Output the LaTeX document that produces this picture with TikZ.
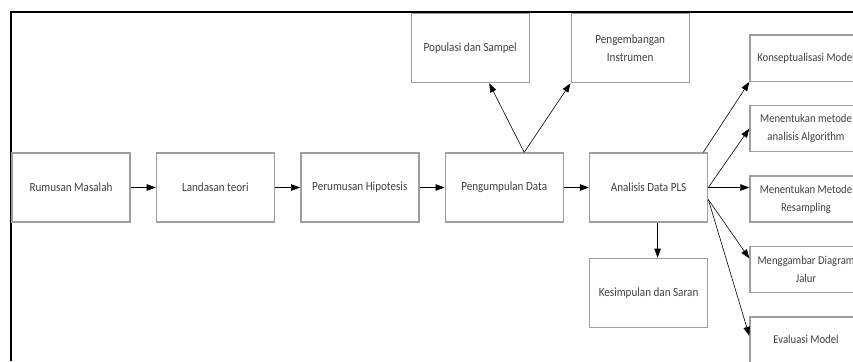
\documentclass[tikz,border=0pt]{standalone}
\usepackage{fontspec}
\setmainfont{Carlito}[FakeStretch=0.89]
\usetikzlibrary{positioning,arrows.meta}

\begin{document}
\begin{tikzpicture}[x=1pt,y=1pt,
						mainbox/.style={draw=black!38,line width=1.4pt,minimum width=118pt,minimum height=69pt,inner sep=2pt,align=center,text=black!75,font=\fontsize{12.5}{18}\selectfont},
						sidebox/.style={mainbox,minimum width=112pt,minimum height=46pt,font=\fontsize{12}{18}\selectfont},
						arr/.style={-{Triangle[length=9pt,width=6.5pt]},line width=0.6pt}]
		\useasboundingbox (0,0) rectangle (853,-361);
		\draw[line width=2.6pt] (11,-361) -- (11,-12) -- (853,-12);

		\node[mainbox]								(rm)		at (71,-187.5) {Rumusan Masalah};
		\node[mainbox,node distance=25pt,right=of rm]	(lt)		{Landasan teori};
		\node[mainbox,node distance=25pt,right=of lt]	(ph)		{Perumusan Hipotesis};
		\node[mainbox,node distance=25pt,right=of ph]	(pd)		{Pengumpulan Data};
		\node[mainbox,node distance=25pt,right=of pd]	(ad)		{Analisis Data PLS};
		\node[mainbox,node distance=35pt,below=of ad]	(ks)		{Kesimpulan dan Saran};
		\node[mainbox,node distance=69pt,above=of pd,xshift=-34pt]	(ps)	{Populasi dan Sampel};
		\node[mainbox,node distance=69pt,above=of pd,xshift=126pt]	(pi)	{Pengembangan\\Instrumen};

		\node[sidebox,anchor=south west]				(mr)		at ([xshift=41pt]ad.south east) {Menentukan Metode\\Resampling};
		\node[sidebox,node distance=23pt,above=of mr]	(ma)		{Menentukan metode\\analisis Algorithm};
		\node[sidebox,node distance=23pt,above=of ma]	(km)		{Konseptualisasi Model};
		\node[sidebox,node distance=23pt,below=of mr]	(mg)		{Menggambar Diagram\\Jalur};
		\node[sidebox,node distance=23pt,below=of mg]	(ev)		{Evaluasi Model};

		\draw[arr] (rm) -- (lt);
		\draw[arr] (lt) -- (ph);
		\draw[arr] (ph) -- (pd);
		\draw[arr] (pd) -- (ad);
		\draw[arr] ([xshift=20pt]pd.north) -- ([xshift=19pt]ps.south);
		\draw[arr] ([xshift=20pt]pd.north) -- (pi.south west);
		\draw[arr] ([xshift=9pt]ad.south) -- ([xshift=9pt]ks.north);
		\draw[arr] ([xshift=-5pt]ad.north east) -- (km.south west);
		\draw[arr] (ad.east) -- (ma.west);
		\draw[arr] (ad.east) -- (ad.east -| mr.west);
		\draw[arr] ([yshift=-12pt]ad.east) -- ([yshift=11pt]mg.west);
		\draw[arr] ([yshift=-12pt]ad.east) -- ([yshift=4pt]ev.west);
	\end{tikzpicture}
\end{document}
